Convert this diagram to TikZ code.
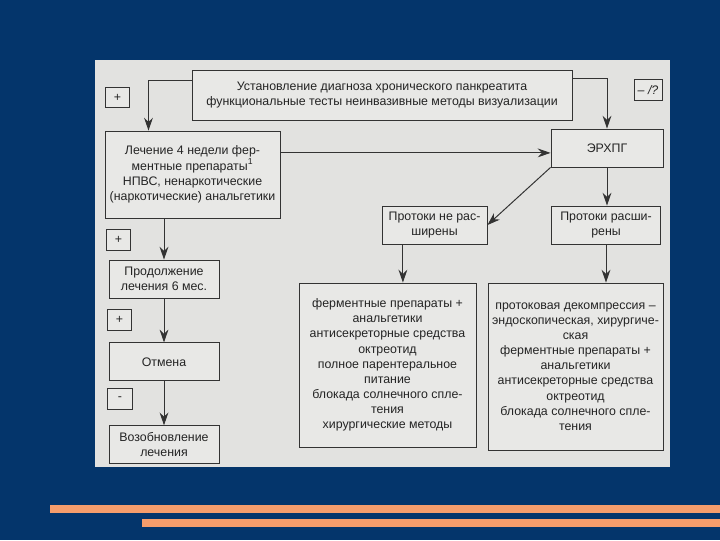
\documentclass[tikz,border=0pt]{standalone}
\usepackage{fontspec}
\setmainfont{Liberation Sans}
\usetikzlibrary{arrows.meta,positioning}
\definecolor{Slide}{HTML}{04356B}
\definecolor{Scan}{HTML}{E2E2E0}
\definecolor{Paper}{HTML}{E8E8E6}
\definecolor{Ink}{HTML}{333333}
\definecolor{Accent}{HTML}{F59D6C}
\tikzset{
 block/.style={draw=Ink, fill=Paper, align=center, inner sep=2pt, line width=0.6pt, text=Ink!70!black, font=\fontsize{8.8}{10.8}\selectfont},
 signbox/.style={block, minimum width=0.62cm, minimum height=0.52cm, inner sep=0pt},
 arrow/.style={-{Stealth[length=3.2mm,width=2.2mm]}, draw=Ink, line width=0.7pt}
}

\begin{document}
\begin{tikzpicture}[x=0.025cm, y=-0.025cm, node distance=1.1cm]
\useasboundingbox (0,0) rectangle (720,540);
\fill[Slide] (0,0) rectangle (720,540);
\fill[Scan] (95,60) rectangle (670,467);
\fill[Accent] (50,505) rectangle (720,513);
\fill[Accent] (142,519) rectangle (720,527);
% top row
\node[block, minimum width=9.5cm, minimum height=1.25cm] (diag) at (382,95) {Установление диагноза хронического панкреатита\\функциональные тесты неинвазивные методы визуализации};
\node[signbox] (plusa) at (117.5,97.5) {+};
\node[signbox, minimum width=0.7cm] (minq) at (648,90) {\textit{– /?}};
% left column
\node[block, minimum width=4.375cm, minimum height=2.175cm] (lech) at (192.5,174.5) {Лечение 4 недели фер-\\ментные препараты\textsuperscript{1}\\НПВС, ненаркотические\\(наркотические) анальгетики};
\node[block, minimum width=2.75cm, minimum height=0.95cm] (prod) at (164,279) {Продолжение\\лечения 6 мес.};
\node[block, minimum width=2.75cm, minimum height=0.95cm, below=of prod] (otm) {Отмена};
\node[block, minimum width=2.75cm, minimum height=0.95cm, below=of otm] (voz) {Возобновление\\лечения};
\node[signbox] (plusb) at (118.5,240) {+};
\node[signbox] (plusc) at (119.5,320) {+};
\node[signbox] (minus) at (120,399) {-};
% right part
\node[block, minimum width=2.8cm, minimum height=0.95cm] (erh) at (607,148) {ЭРХПГ};
\node[block, minimum width=2.625cm, minimum height=0.95cm] (nerasch) at (434.5,225) {Протоки не рас-\\ширены};
\node[block, minimum width=2.725cm, minimum height=0.95cm] (rasch) at (606,225) {Протоки расши-\\рены};
\node[block, minimum width=4.425cm, minimum height=4.1cm] (lbig) at (387.5,365) {ферментные препараты +\\анальгетики\\антисекреторные средства\\октреотид\\полное парентеральное\\питание\\блокада солнечного спле-\\тения\\хирургические методы};
\node[block, minimum width=4.375cm, minimum height=4.175cm] (rbig) at (575.5,366.5) {протоковая декомпрессия –\\эндоскопическая, хирургиче-\\ская\\ферментные препараты +\\анальгетики\\антисекреторные средства\\октреотид\\блокада солнечного спле-\\тения};
% connectors
\draw[arrow] ([yshift=0.375cm]diag.west) -| ([xshift=-1.1cm]lech.north);
\draw[arrow] ([yshift=0.425cm]diag.east) -| (erh.north);
\draw[arrow] ([yshift=0.54cm]lech.east) -- ([yshift=0.54cm]lech.east -| erh.west);
\draw[arrow] (prod.north |- lech.south) -- (prod.north);
\draw[arrow] (prod) -- (otm);
\draw[arrow] (otm) -- (voz);
\draw[arrow] (erh.south west) -- (nerasch.east);
\draw[arrow] (erh.south) -- (erh.south |- rasch.north);
\draw[arrow] ([xshift=-0.79cm]nerasch.south) -- ([xshift=-0.79cm]nerasch.south |- lbig.north);
\draw[arrow] (rasch.south) -- (rasch.south |- rbig.north);
\end{tikzpicture}
\end{document}
